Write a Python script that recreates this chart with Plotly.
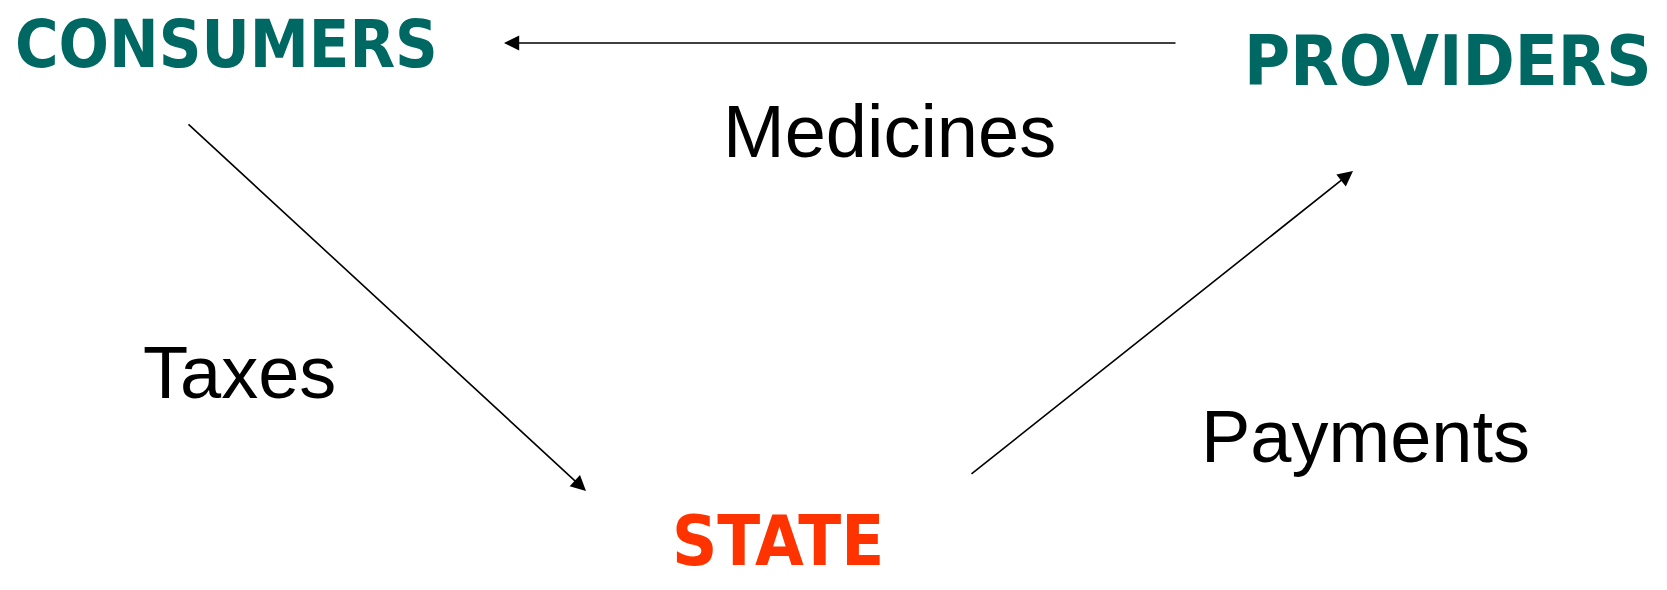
import plotly.graph_objects as go

# ---- data -------------------------------------------------------------
nodes = ["CONSUMERS", "PROVIDERS", "STATE"]
node_colors = ["#006863", "#006863", "#FF3300"]

flows = ["Medicines", "Taxes", "Payments"]
flow_source = ["PROVIDERS", "CONSUMERS", "STATE"]
flow_target = ["CONSUMERS", "STATE", "PROVIDERS"]

# ---- layout (pixel canvas, y downward) --------------------------------
W, H = 1667, 590
node_pos = {"CONSUMERS": (226, 44), "PROVIDERS": (1448, 61), "STATE": (778, 541)}
node_size = {"CONSUMERS": 66, "PROVIDERS": 70, "STATE": 70}
arrow_start = {"Medicines": (1177, 43), "Taxes": (187, 123), "Payments": (970, 475)}
arrow_end = {"Medicines": (504, 43), "Taxes": (586, 491), "Payments": (1353, 171)}
label_pos = {"Medicines": (889, 131), "Taxes": (239, 372), "Payments": (1365, 436)}

fig = go.Figure()
fig.add_trace(go.Scatter(x=[0, W], y=[0, H], mode="markers",
                         marker=dict(opacity=0), hoverinfo="skip", showlegend=False))

annotations = []
for name, col in zip(nodes, node_colors):
    x, y = node_pos[name]
    annotations.append(dict(
        x=x, y=y, xref="x", yref="y", text=name, showarrow=False,
        xanchor="center", yanchor="middle",
        font=dict(family="DejaVu Sans Condensed, Liberation Sans Narrow, sans-serif",
                  size=node_size[name], color=col, weight="bold")))

for f, s, t in zip(flows, flow_source, flow_target):
    x0, y0 = arrow_start[f]
    x1, y1 = arrow_end[f]
    annotations.append(dict(
        x=x1, y=y1, ax=x0, ay=y0, xref="x", yref="y", axref="x", ayref="y",
        text="", showarrow=True, arrowhead=2, arrowsize=1.9, arrowwidth=1.6,
        arrowcolor="#000000", standoff=0, startstandoff=0))
    lx, ly = label_pos[f]
    annotations.append(dict(
        x=lx, y=ly, xref="x", yref="y", text=f, showarrow=False,
        xanchor="center", yanchor="middle",
        font=dict(family="Liberation Sans, Arial, sans-serif", size=74, color="#000000")))

fig.update_layout(
    width=W, height=H,
    margin=dict(l=0, r=0, t=0, b=0),
    paper_bgcolor="white", plot_bgcolor="white",
    xaxis=dict(range=[0, W], visible=False, fixedrange=True),
    yaxis=dict(range=[H, 0], visible=False, fixedrange=True),
    annotations=annotations,
    showlegend=False,
)

fig.write_html("out.html", config={"displayModeBar": False},
               post_script="document.body.style.margin='0';document.body.style.overflow='hidden';")
